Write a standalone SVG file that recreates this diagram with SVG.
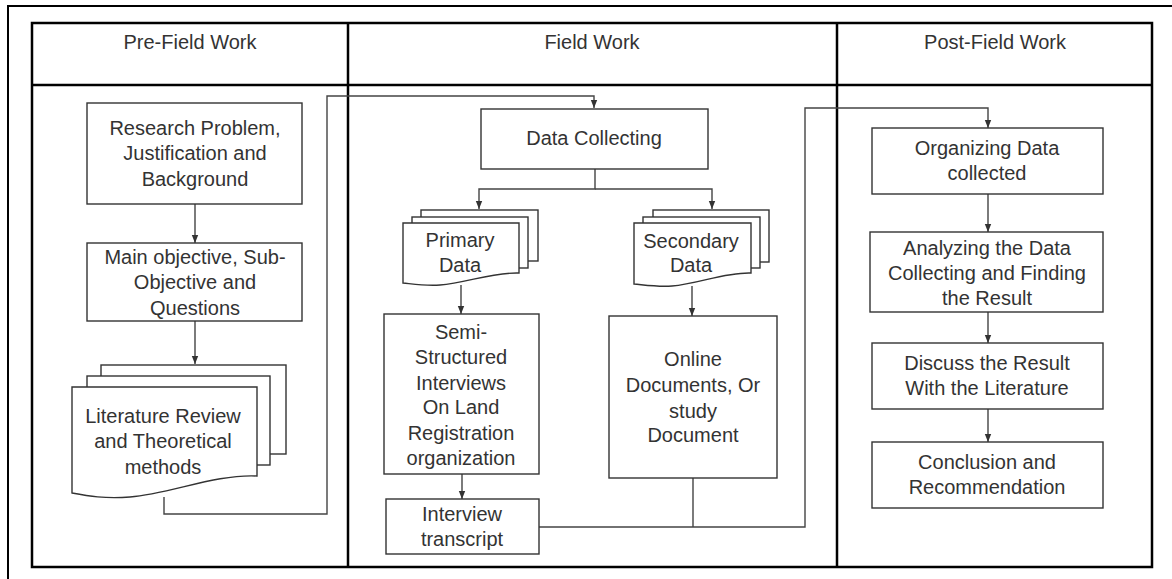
<svg xmlns="http://www.w3.org/2000/svg" width="1172" height="579" viewBox="0 0 1172 579">
<style>
.frame{fill:none;stroke:#000;stroke-width:2.5}
.box{fill:#fff;stroke:#333;stroke-width:1.4}
.con{fill:none;stroke:#444;stroke-width:1.4}
text{font-family:"Liberation Sans",Arial,sans-serif;font-size:20px;fill:#333;text-anchor:middle}
</style>
<defs>
<marker id="ah" markerUnits="userSpaceOnUse" markerWidth="8" markerHeight="8" viewBox="0 0 8 8" refX="8" refY="4" orient="auto">
<path d="M0,0.8 L8,4 L0,7.2 Z" fill="#333"/>
</marker>
</defs>
<rect width="1172" height="579" fill="#fff"/>
<g id="outer-frame">
<path d="M8,579 V6 H1172" fill="none" stroke="#000" stroke-width="2"/>
</g>
<g id="table">
<rect class="frame" x="32" y="23" width="1120" height="544"/>
<line class="frame" x1="32" y1="85" x2="1152" y2="85"/>
<line class="frame" x1="348" y1="23" x2="348" y2="567"/>
<line class="frame" x1="837" y1="23" x2="837" y2="567"/>
<text x="190" y="49">Pre-Field Work</text>
<text x="592" y="49">Field Work</text>
<text x="995" y="49">Post-Field Work</text>
</g>
<g id="connectors">
<path class="con" d="M195,204 V243" marker-end="url(#ah)"/>
<path class="con" d="M195,321 V364" marker-end="url(#ah)"/>
<path class="con" d="M164,497 V514 H327 V96 H594 V108" marker-end="url(#ah)"/>
<path class="con" d="M595,169 V189 H479 V209" marker-end="url(#ah)"/>
<path class="con" d="M595,189 H712 V209" marker-end="url(#ah)"/>
<path class="con" d="M461,285 V314" marker-end="url(#ah)"/>
<path class="con" d="M692,286 V316" marker-end="url(#ah)"/>
<path class="con" d="M462,474 V499" marker-end="url(#ah)"/>
<path class="con" d="M539,527 H805 V108 H988 V128" marker-end="url(#ah)"/>
<path class="con" d="M693,478 V527"/>
<path class="con" d="M988,194 V232" marker-end="url(#ah)"/>
<path class="con" d="M988,312 V343" marker-end="url(#ah)"/>
<path class="con" d="M988,409 V442" marker-end="url(#ah)"/>
</g>
<g id="research-problem">
<rect class="box" x="87" y="103" width="215" height="101"/>
<text x="195" y="135">Research Problem,</text>
<text x="195" y="160">Justification and</text>
<text x="195" y="186">Background</text>
</g>
<g id="main-objective">
<rect class="box" x="87" y="243" width="215" height="78"/>
<text x="195" y="264">Main objective, Sub-</text>
<text x="195" y="289">Objective and</text>
<text x="195" y="315">Questions</text>
</g>
<g id="literature-review">
<rect class="box" x="101" y="365" width="185" height="89"/>
<rect class="box" x="87" y="376" width="183" height="89"/>
<path class="box" d="M72,387 H257 V476 C215,474 170,494 130,497 C105,499 88,496 72,493 Z"/>
<text x="163" y="423">Literature Review</text>
<text x="163" y="448">and Theoretical</text>
<text x="163" y="474">methods</text>
</g>
<g id="data-collecting">
<rect class="box" x="481" y="109" width="227" height="60"/>
<text x="594" y="145">Data Collecting</text>
</g>
<g id="primary-data">
<rect class="box" x="421" y="210" width="117" height="51"/>
<rect class="box" x="412" y="217" width="116" height="51"/>
<path class="box" d="M403,223 H519 V273 C493,272 466,283 440,285 C425,286 413,284 403,283 Z"/>
<text x="460" y="247">Primary</text>
<text x="460" y="272">Data</text>
</g>
<g id="secondary-data">
<rect class="box" x="653" y="210" width="116" height="52"/>
<rect class="box" x="643" y="217" width="117" height="51"/>
<path class="box" d="M634,223 H751 V273 C725,272 698,284 672,286 C657,287 645,285 634,284 Z"/>
<text x="691" y="248">Secondary</text>
<text x="691" y="272">Data</text>
</g>
<g id="semi-structured">
<rect class="box" x="384" y="314" width="155" height="160"/>
<text x="461" y="339">Semi-</text>
<text x="461" y="364">Structured</text>
<text x="461" y="390">Interviews</text>
<text x="461" y="414">On Land</text>
<text x="461" y="440">Registration</text>
<text x="461" y="465">organization</text>
</g>
<g id="interview-transcript">
<rect class="box" x="386" y="499" width="153" height="55"/>
<text x="462" y="521">Interview</text>
<text x="462" y="546">transcript</text>
</g>
<g id="online-documents">
<rect class="box" x="609" y="316" width="168" height="162"/>
<text x="693" y="366">Online</text>
<text x="693" y="392">Documents, Or</text>
<text x="693" y="418">study</text>
<text x="693" y="442">Document</text>
</g>
<g id="organizing">
<rect class="box" x="872" y="128" width="231" height="66"/>
<text x="987" y="155">Organizing Data</text>
<text x="987" y="180">collected</text>
</g>
<g id="analyzing">
<rect class="box" x="870" y="232" width="233" height="80"/>
<text x="987" y="255">Analyzing the Data</text>
<text x="987" y="280">Collecting and Finding</text>
<text x="987" y="305">the Result</text>
</g>
<g id="discuss">
<rect class="box" x="872" y="343" width="231" height="66"/>
<text x="987" y="370">Discuss the Result</text>
<text x="987" y="395">With the Literature</text>
</g>
<g id="conclusion">
<rect class="box" x="872" y="442" width="231" height="66"/>
<text x="987" y="469">Conclusion and</text>
<text x="987" y="494">Recommendation</text>
</g>
</svg>
